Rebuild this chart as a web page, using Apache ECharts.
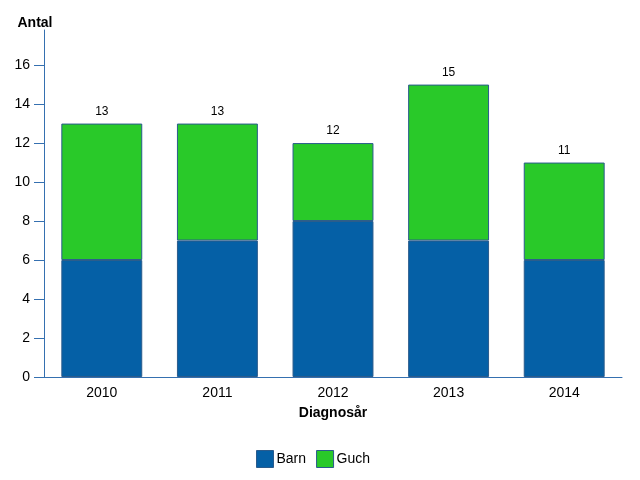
<!DOCTYPE html>
<html><head><meta charset="utf-8">
<script src="https://cdn.jsdelivr.net/npm/echarts@6/dist/echarts.min.js"></script>
<style>html,body{margin:0;padding:0;background:#fff}#c{width:640px;height:480px}</style>
</head><body><div id="c"></div>
<script>
var years = ['2010','2011','2012','2013','2014'];
var barn = [6, 7, 8, 7, 6];
var guch = [7, 6, 4, 8, 5];
var yTicks = [0, 2, 4, 6, 8, 10, 12, 14, 16];
var totals = years.map(function(_, i){ return barn[i] + guch[i]; });

var font = 'Liberation Sans, Arial, sans-serif';
var axisColor = '#3570b0';
var chart = echarts.init(document.getElementById('c'));
chart.setOption({
  animation: false,
  textStyle: { fontFamily: font },
  grid: { left: 44, right: 18, top: 30, bottom: 103, containLabel: false },
  legend: {
    bottom: 7, left: 251, itemWidth: 17, itemHeight: 17, itemGap: 10,
    icon: 'rect',
    itemStyle: { borderColor: '#2a5b8c', borderWidth: 1 },
    textStyle: { fontFamily: font, fontSize: 14, color: '#000', padding: [0,0,0,-2] },
    data: ['Barn', 'Guch']
  },
  xAxis: {
    type: 'category', data: years,
    name: 'Diagnosår', nameLocation: 'middle', nameGap: 29,
    nameTextStyle: { fontFamily: font, fontWeight: 'bold', fontSize: 14, color: '#000' },
    axisLine: { lineStyle: { color: axisColor, width: 1 } },
    axisTick: { show: false },
    axisLabel: { fontFamily: font, fontSize: 14, color: '#000', margin: 9 }
  },
  yAxis: {
    type: 'value', min: 0, max: 17.8, interval: 2,
    name: 'Antal', nameLocation: 'end', nameGap: 0,
    nameTextStyle: { fontFamily: font, fontWeight: 'bold', fontSize: 14, color: '#000', padding: [0, 18, 0, 0] },
    axisLine: { show: true, lineStyle: { color: axisColor, width: 1 } },
    axisTick: { show: true, length: 10, lineStyle: { color: axisColor }, customValues: yTicks },
    axisLabel: { fontFamily: font, fontSize: 14, color: '#000', margin: 14, customValues: yTicks },
    splitLine: { show: false }
  },
  series: [
    { name: 'Barn', type: 'bar', stack: 's', data: barn, barWidth: '70%',
      itemStyle: { color: '#0560a6', borderColor: '#2a5b8c', borderWidth: 1 } },
    { name: 'Guch', type: 'bar', stack: 's', data: guch, barWidth: '70%',
      itemStyle: { color: '#29c929', borderColor: '#2a5b8c', borderWidth: 1 },
      label: { show: true, position: 'top', distance: 6, fontFamily: font, fontSize: 12, color: '#000',
        formatter: function(p){ return totals[p.dataIndex]; } } }
  ]
});
</script></body></html>
